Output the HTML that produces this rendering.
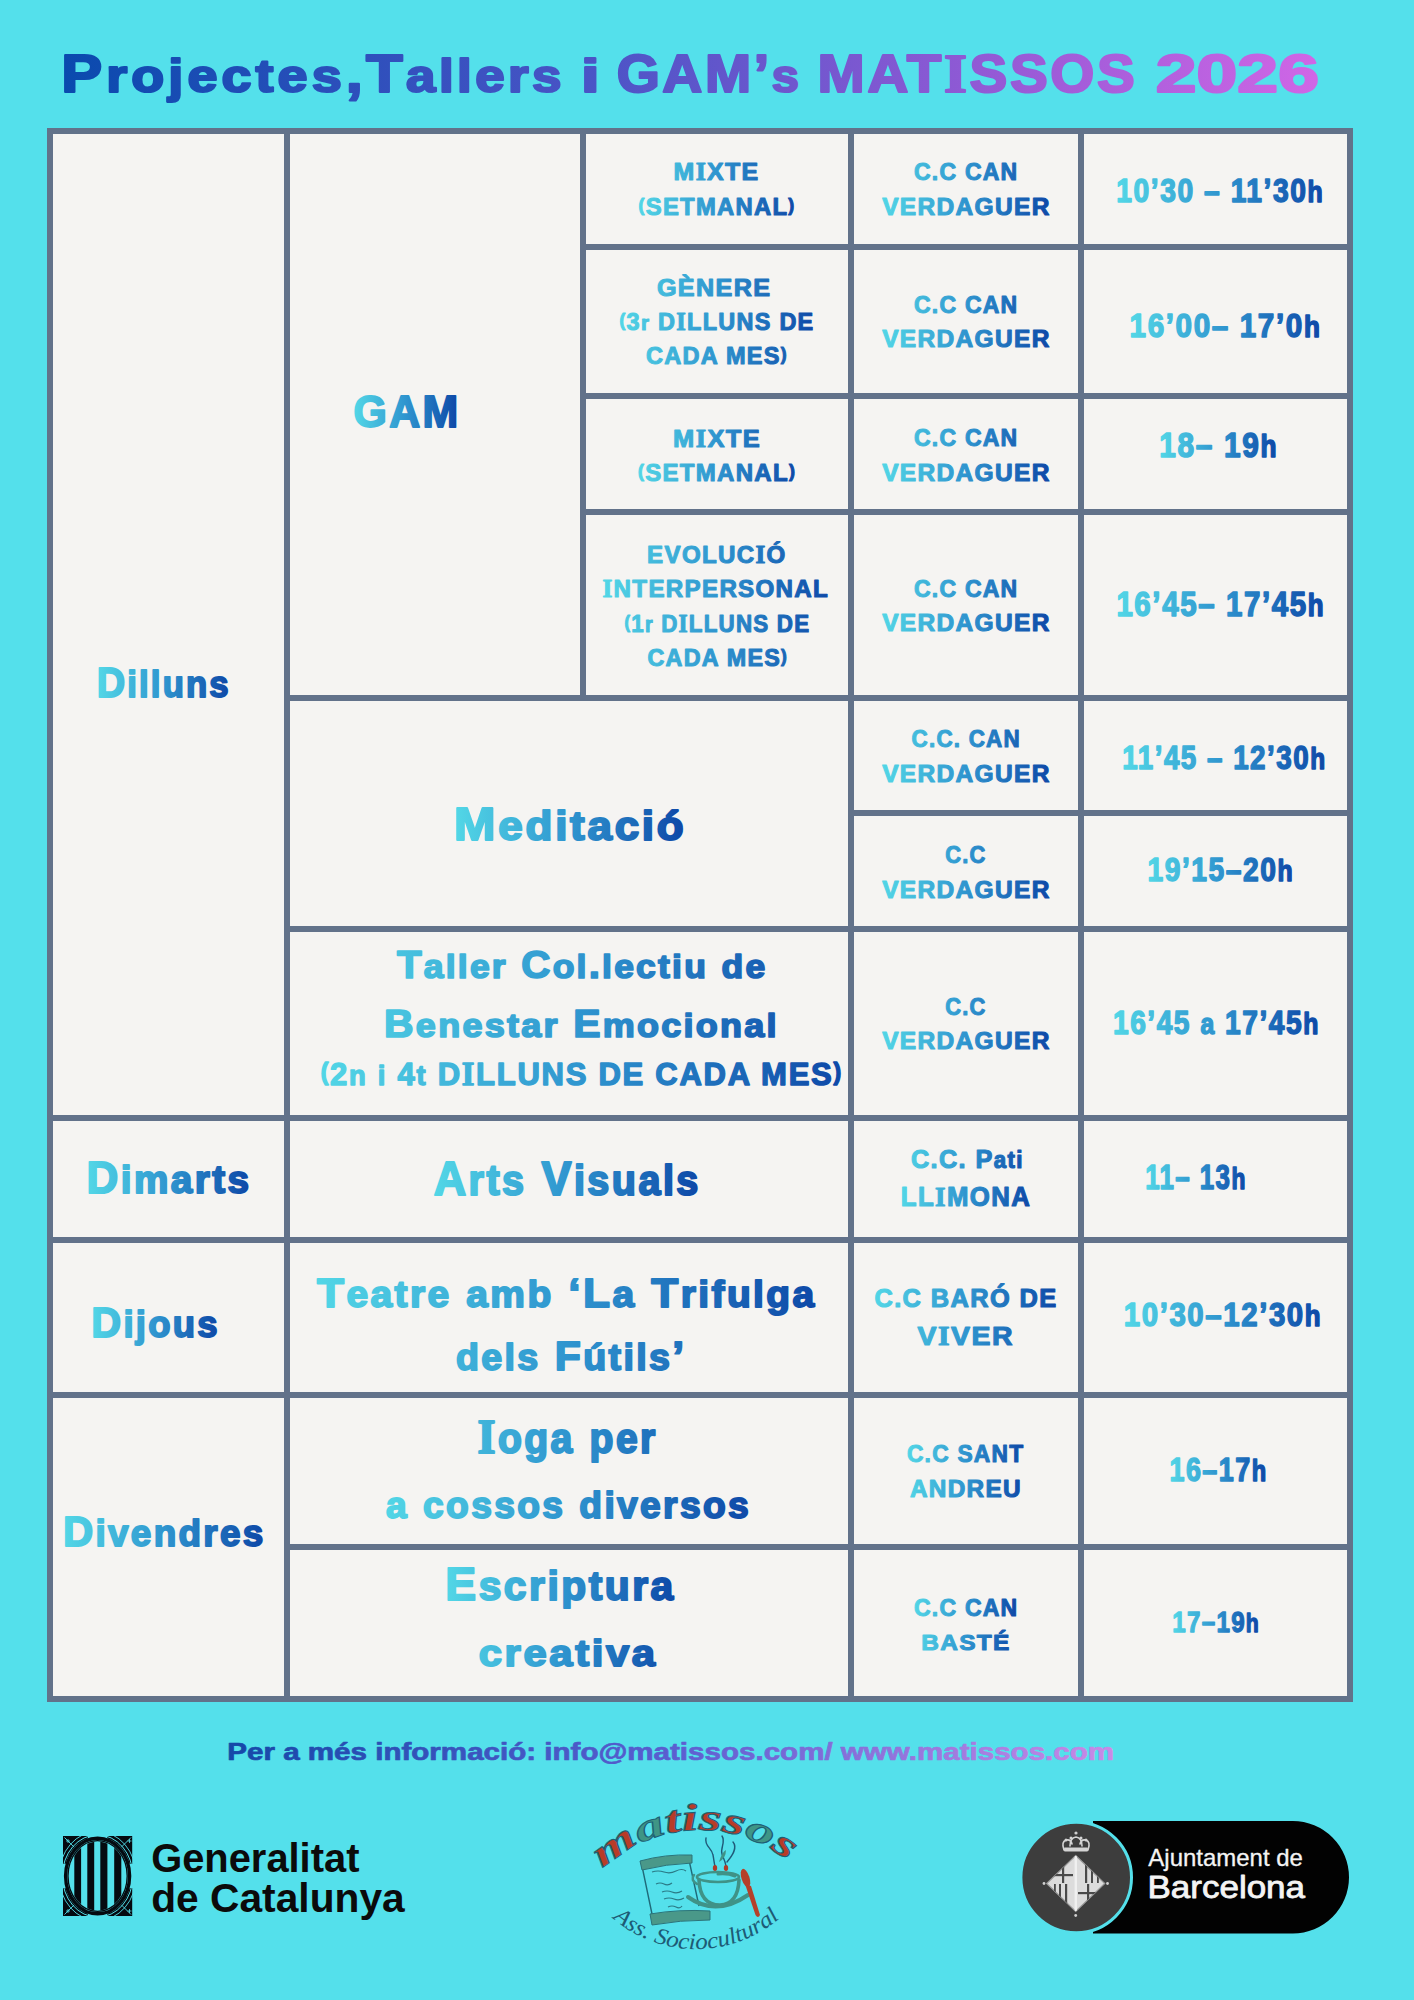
<!DOCTYPE html><html><head><meta charset="utf-8"><title>Matissos 2026</title><style>
html,body{margin:0;padding:0;width:1414px;height:2000px;overflow:hidden;background:#54e0eb}
svg{display:block}text{font-family:"Liberation Sans",sans-serif;font-weight:700}
</style></head><body>
<svg width="1414" height="2000" viewBox="0 0 1414 2000">
<defs>
<linearGradient id="g_title" gradientUnits="userSpaceOnUse" x1="63.6" y1="0" x2="1318.0" y2="0"><stop offset="0" stop-color="#0a4aae"/><stop offset="0.42" stop-color="#4a54c6"/><stop offset="0.75" stop-color="#965ad6"/><stop offset="1" stop-color="#d066e6"/></linearGradient>
<linearGradient id="g_c1a" gradientUnits="userSpaceOnUse" x1="98.9" y1="0" x2="228.0" y2="0"><stop offset="0" stop-color="#52d6e6"/><stop offset="0.5" stop-color="#2f95cf"/><stop offset="1" stop-color="#0e49a8"/></linearGradient>
<linearGradient id="g_c1b" gradientUnits="userSpaceOnUse" x1="88.8" y1="0" x2="248.3" y2="0"><stop offset="0" stop-color="#52d6e6"/><stop offset="0.5" stop-color="#2f95cf"/><stop offset="1" stop-color="#0e49a8"/></linearGradient>
<linearGradient id="g_c1c" gradientUnits="userSpaceOnUse" x1="92.7" y1="0" x2="217.0" y2="0"><stop offset="0" stop-color="#52d6e6"/><stop offset="0.5" stop-color="#2f95cf"/><stop offset="1" stop-color="#0e49a8"/></linearGradient>
<linearGradient id="g_c1d" gradientUnits="userSpaceOnUse" x1="65.0" y1="0" x2="262.4" y2="0"><stop offset="0" stop-color="#52d6e6"/><stop offset="0.5" stop-color="#2f95cf"/><stop offset="1" stop-color="#0e49a8"/></linearGradient>
<linearGradient id="g_gam" gradientUnits="userSpaceOnUse" x1="354.3" y1="0" x2="456.7" y2="0"><stop offset="0" stop-color="#52d6e6"/><stop offset="0.5" stop-color="#2f95cf"/><stop offset="1" stop-color="#0e49a8"/></linearGradient>
<linearGradient id="g_med" gradientUnits="userSpaceOnUse" x1="456.5" y1="0" x2="682.7" y2="0"><stop offset="0" stop-color="#52d6e6"/><stop offset="0.5" stop-color="#2f95cf"/><stop offset="1" stop-color="#0e49a8"/></linearGradient>
<linearGradient id="g_tal" gradientUnits="userSpaceOnUse" x1="321.5" y1="0" x2="840.6" y2="0"><stop offset="0" stop-color="#52d6e6"/><stop offset="0.5" stop-color="#2f95cf"/><stop offset="1" stop-color="#0e49a8"/></linearGradient>
<linearGradient id="g_arts" gradientUnits="userSpaceOnUse" x1="435.3" y1="0" x2="698.0" y2="0"><stop offset="0" stop-color="#52d6e6"/><stop offset="0.5" stop-color="#2f95cf"/><stop offset="1" stop-color="#0e49a8"/></linearGradient>
<linearGradient id="g_tea" gradientUnits="userSpaceOnUse" x1="317.0" y1="0" x2="815.5" y2="0"><stop offset="0" stop-color="#52d6e6"/><stop offset="0.5" stop-color="#2f95cf"/><stop offset="1" stop-color="#0e49a8"/></linearGradient>
<linearGradient id="g_ioga" gradientUnits="userSpaceOnUse" x1="386.0" y1="0" x2="747.6" y2="0"><stop offset="0" stop-color="#52d6e6"/><stop offset="0.5" stop-color="#2f95cf"/><stop offset="1" stop-color="#0e49a8"/></linearGradient>
<linearGradient id="g_esc" gradientUnits="userSpaceOnUse" x1="447.6" y1="0" x2="674.6" y2="0"><stop offset="0" stop-color="#52d6e6"/><stop offset="0.5" stop-color="#2f95cf"/><stop offset="1" stop-color="#0e49a8"/></linearGradient>
<linearGradient id="g_c3a" gradientUnits="userSpaceOnUse" x1="639.0" y1="0" x2="794.0" y2="0"><stop offset="0" stop-color="#52d6e6"/><stop offset="0.5" stop-color="#2f95cf"/><stop offset="1" stop-color="#0e49a8"/></linearGradient>
<linearGradient id="g_c3b" gradientUnits="userSpaceOnUse" x1="619.5" y1="0" x2="813.0" y2="0"><stop offset="0" stop-color="#52d6e6"/><stop offset="0.5" stop-color="#2f95cf"/><stop offset="1" stop-color="#0e49a8"/></linearGradient>
<linearGradient id="g_c3c" gradientUnits="userSpaceOnUse" x1="638.7" y1="0" x2="794.3" y2="0"><stop offset="0" stop-color="#52d6e6"/><stop offset="0.5" stop-color="#2f95cf"/><stop offset="1" stop-color="#0e49a8"/></linearGradient>
<linearGradient id="g_c3d" gradientUnits="userSpaceOnUse" x1="605.0" y1="0" x2="827.8" y2="0"><stop offset="0" stop-color="#52d6e6"/><stop offset="0.5" stop-color="#2f95cf"/><stop offset="1" stop-color="#0e49a8"/></linearGradient>
<linearGradient id="g_c4a" gradientUnits="userSpaceOnUse" x1="882.3" y1="0" x2="1048.6" y2="0"><stop offset="0" stop-color="#52d6e6"/><stop offset="0.5" stop-color="#2f95cf"/><stop offset="1" stop-color="#0e49a8"/></linearGradient>
<linearGradient id="g_c4b" gradientUnits="userSpaceOnUse" x1="882.3" y1="0" x2="1048.6" y2="0"><stop offset="0" stop-color="#52d6e6"/><stop offset="0.5" stop-color="#2f95cf"/><stop offset="1" stop-color="#0e49a8"/></linearGradient>
<linearGradient id="g_c4c" gradientUnits="userSpaceOnUse" x1="882.3" y1="0" x2="1048.6" y2="0"><stop offset="0" stop-color="#52d6e6"/><stop offset="0.5" stop-color="#2f95cf"/><stop offset="1" stop-color="#0e49a8"/></linearGradient>
<linearGradient id="g_c4d" gradientUnits="userSpaceOnUse" x1="882.3" y1="0" x2="1048.6" y2="0"><stop offset="0" stop-color="#52d6e6"/><stop offset="0.5" stop-color="#2f95cf"/><stop offset="1" stop-color="#0e49a8"/></linearGradient>
<linearGradient id="g_c4e" gradientUnits="userSpaceOnUse" x1="882.3" y1="0" x2="1048.6" y2="0"><stop offset="0" stop-color="#52d6e6"/><stop offset="0.5" stop-color="#2f95cf"/><stop offset="1" stop-color="#0e49a8"/></linearGradient>
<linearGradient id="g_c4f" gradientUnits="userSpaceOnUse" x1="882.3" y1="0" x2="1048.6" y2="0"><stop offset="0" stop-color="#52d6e6"/><stop offset="0.5" stop-color="#2f95cf"/><stop offset="1" stop-color="#0e49a8"/></linearGradient>
<linearGradient id="g_c4g" gradientUnits="userSpaceOnUse" x1="882.3" y1="0" x2="1048.6" y2="0"><stop offset="0" stop-color="#52d6e6"/><stop offset="0.5" stop-color="#2f95cf"/><stop offset="1" stop-color="#0e49a8"/></linearGradient>
<linearGradient id="g_c4h" gradientUnits="userSpaceOnUse" x1="901.6" y1="0" x2="1029.3" y2="0"><stop offset="0" stop-color="#52d6e6"/><stop offset="0.5" stop-color="#2f95cf"/><stop offset="1" stop-color="#0e49a8"/></linearGradient>
<linearGradient id="g_c4i" gradientUnits="userSpaceOnUse" x1="874.9" y1="0" x2="1056.0" y2="0"><stop offset="0" stop-color="#52d6e6"/><stop offset="0.5" stop-color="#2f95cf"/><stop offset="1" stop-color="#0e49a8"/></linearGradient>
<linearGradient id="g_c4j" gradientUnits="userSpaceOnUse" x1="907.2" y1="0" x2="1023.4" y2="0"><stop offset="0" stop-color="#52d6e6"/><stop offset="0.5" stop-color="#2f95cf"/><stop offset="1" stop-color="#0e49a8"/></linearGradient>
<linearGradient id="g_c4k" gradientUnits="userSpaceOnUse" x1="914.2" y1="0" x2="1016.0" y2="0"><stop offset="0" stop-color="#52d6e6"/><stop offset="0.5" stop-color="#2f95cf"/><stop offset="1" stop-color="#0e49a8"/></linearGradient>
<linearGradient id="g_h1" gradientUnits="userSpaceOnUse" x1="1117.8" y1="0" x2="1322.3" y2="0"><stop offset="0" stop-color="#52d6e6"/><stop offset="0.5" stop-color="#2f95cf"/><stop offset="1" stop-color="#0e49a8"/></linearGradient>
<linearGradient id="g_h2" gradientUnits="userSpaceOnUse" x1="1131.4" y1="0" x2="1318.9" y2="0"><stop offset="0" stop-color="#52d6e6"/><stop offset="0.5" stop-color="#2f95cf"/><stop offset="1" stop-color="#0e49a8"/></linearGradient>
<linearGradient id="g_h3" gradientUnits="userSpaceOnUse" x1="1160.3" y1="0" x2="1275.7" y2="0"><stop offset="0" stop-color="#52d6e6"/><stop offset="0.5" stop-color="#2f95cf"/><stop offset="1" stop-color="#0e49a8"/></linearGradient>
<linearGradient id="g_h4" gradientUnits="userSpaceOnUse" x1="1117.8" y1="0" x2="1322.3" y2="0"><stop offset="0" stop-color="#52d6e6"/><stop offset="0.5" stop-color="#2f95cf"/><stop offset="1" stop-color="#0e49a8"/></linearGradient>
<linearGradient id="g_h5" gradientUnits="userSpaceOnUse" x1="1123.8" y1="0" x2="1324.0" y2="0"><stop offset="0" stop-color="#52d6e6"/><stop offset="0.5" stop-color="#2f95cf"/><stop offset="1" stop-color="#0e49a8"/></linearGradient>
<linearGradient id="g_h6" gradientUnits="userSpaceOnUse" x1="1148.4" y1="0" x2="1291.8" y2="0"><stop offset="0" stop-color="#52d6e6"/><stop offset="0.5" stop-color="#2f95cf"/><stop offset="1" stop-color="#0e49a8"/></linearGradient>
<linearGradient id="g_h7" gradientUnits="userSpaceOnUse" x1="1113.6" y1="0" x2="1317.2" y2="0"><stop offset="0" stop-color="#52d6e6"/><stop offset="0.5" stop-color="#2f95cf"/><stop offset="1" stop-color="#0e49a8"/></linearGradient>
<linearGradient id="g_h8" gradientUnits="userSpaceOnUse" x1="1146.2" y1="0" x2="1245.1" y2="0"><stop offset="0" stop-color="#52d6e6"/><stop offset="0.5" stop-color="#2f95cf"/><stop offset="1" stop-color="#0e49a8"/></linearGradient>
<linearGradient id="g_h9" gradientUnits="userSpaceOnUse" x1="1125.5" y1="0" x2="1319.8" y2="0"><stop offset="0" stop-color="#52d6e6"/><stop offset="0.5" stop-color="#2f95cf"/><stop offset="1" stop-color="#0e49a8"/></linearGradient>
<linearGradient id="g_h10" gradientUnits="userSpaceOnUse" x1="1170.4" y1="0" x2="1265.5" y2="0"><stop offset="0" stop-color="#52d6e6"/><stop offset="0.5" stop-color="#2f95cf"/><stop offset="1" stop-color="#0e49a8"/></linearGradient>
<linearGradient id="g_h11" gradientUnits="userSpaceOnUse" x1="1173.3" y1="0" x2="1257.8" y2="0"><stop offset="0" stop-color="#52d6e6"/><stop offset="0.5" stop-color="#2f95cf"/><stop offset="1" stop-color="#0e49a8"/></linearGradient>
<linearGradient id="g_foot" gradientUnits="userSpaceOnUse" x1="229.0" y1="0" x2="1112.8" y2="0"><stop offset="0" stop-color="#1548a8"/><stop offset="0.5" stop-color="#5a5ed0"/><stop offset="1" stop-color="#c98ae6"/></linearGradient>
</defs>
<rect x="0" y="0" width="1414" height="2000" fill="#54e0eb"/>
<rect x="47" y="128" width="1306" height="1574" fill="#62728a"/>
<rect x="53" y="134" width="231" height="981" fill="#f5f4f2"/>
<rect x="53" y="1121" width="231" height="116" fill="#f5f4f2"/>
<rect x="53" y="1243" width="231" height="149" fill="#f5f4f2"/>
<rect x="53" y="1398" width="231" height="298" fill="#f5f4f2"/>
<rect x="290" y="134" width="290" height="561" fill="#f5f4f2"/>
<rect x="290" y="701" width="558" height="225" fill="#f5f4f2"/>
<rect x="290" y="932" width="558" height="183" fill="#f5f4f2"/>
<rect x="290" y="1121" width="558" height="116" fill="#f5f4f2"/>
<rect x="290" y="1243" width="558" height="149" fill="#f5f4f2"/>
<rect x="290" y="1398" width="558" height="146" fill="#f5f4f2"/>
<rect x="290" y="1550" width="558" height="146" fill="#f5f4f2"/>
<rect x="586" y="134" width="262" height="110" fill="#f5f4f2"/>
<rect x="586" y="250" width="262" height="143" fill="#f5f4f2"/>
<rect x="586" y="399" width="262" height="110" fill="#f5f4f2"/>
<rect x="586" y="515" width="262" height="180" fill="#f5f4f2"/>
<rect x="854" y="134" width="224" height="110" fill="#f5f4f2"/>
<rect x="1084" y="134" width="263" height="110" fill="#f5f4f2"/>
<rect x="854" y="250" width="224" height="143" fill="#f5f4f2"/>
<rect x="1084" y="250" width="263" height="143" fill="#f5f4f2"/>
<rect x="854" y="399" width="224" height="110" fill="#f5f4f2"/>
<rect x="1084" y="399" width="263" height="110" fill="#f5f4f2"/>
<rect x="854" y="515" width="224" height="180" fill="#f5f4f2"/>
<rect x="1084" y="515" width="263" height="180" fill="#f5f4f2"/>
<rect x="854" y="701" width="224" height="109" fill="#f5f4f2"/>
<rect x="1084" y="701" width="263" height="109" fill="#f5f4f2"/>
<rect x="854" y="816" width="224" height="110" fill="#f5f4f2"/>
<rect x="1084" y="816" width="263" height="110" fill="#f5f4f2"/>
<rect x="854" y="932" width="224" height="183" fill="#f5f4f2"/>
<rect x="1084" y="932" width="263" height="183" fill="#f5f4f2"/>
<rect x="854" y="1121" width="224" height="116" fill="#f5f4f2"/>
<rect x="1084" y="1121" width="263" height="116" fill="#f5f4f2"/>
<rect x="854" y="1243" width="224" height="149" fill="#f5f4f2"/>
<rect x="1084" y="1243" width="263" height="149" fill="#f5f4f2"/>
<rect x="854" y="1398" width="224" height="146" fill="#f5f4f2"/>
<rect x="1084" y="1398" width="263" height="146" fill="#f5f4f2"/>
<rect x="854" y="1550" width="224" height="146" fill="#f5f4f2"/>
<rect x="1084" y="1550" width="263" height="146" fill="#f5f4f2"/>
<!-- Generalitat emblem -->
<g id="gencat">
  <defs><clipPath id="gcclip"><ellipse cx="97.6" cy="1876" rx="28.6" ry="34.6"/></clipPath></defs>
  <ellipse cx="97.6" cy="1876" rx="32" ry="37.8" fill="none" stroke="#050a10" stroke-width="3.4"/>
  <ellipse cx="97.6" cy="1876" rx="29.6" ry="35.4" fill="none" stroke="#050a10" stroke-width="1.3"/>
  <g clip-path="url(#gcclip)" fill="#050a10">
    <rect x="74.3" y="1830" width="6.8" height="95"/>
    <rect x="87.3" y="1830" width="6.9" height="95"/>
    <rect x="100.3" y="1830" width="7.1" height="95"/>
    <rect x="114.2" y="1830" width="7.1" height="95"/>
  </g>
  <g fill="#050a10">
    <path d="M63 1836 H88 L88 1838.2 A33.7 39.5 0 0 0 65.5 1864 L63 1864 Z"/>
    <path d="M132.2 1836 H107.2 L107.2 1838.2 A33.7 39.5 0 0 1 129.7 1864 L132.2 1864 Z"/>
    <path d="M63 1916 H88 L88 1913.8 A33.7 39.5 0 0 1 65.5 1888 L63 1888 Z"/>
    <path d="M132.2 1916 H107.2 L107.2 1913.8 A33.7 39.5 0 0 0 129.7 1888 L132.2 1888 Z"/>
  </g>
  <g fill="none" stroke="#54e0eb">
    <ellipse cx="97.6" cy="1876" rx="35.3" ry="41.2" stroke-width="1"/>
    <ellipse cx="97.6" cy="1876" rx="38.6" ry="44.6" stroke-width="0.9"/>
    <path d="M64.5 1837.5 L74 1847 M131 1837.5 L121.5 1847 M64.5 1914.5 L74 1905 M131 1914.5 L121.5 1905" stroke-width="0.9"/>
    <path d="M66 1841 h4 M68 1839 v4 M127.5 1841 h4 M129.5 1839 v4 M66 1911 h4 M68 1909 v4 M127.5 1911 h4 M129.5 1909 v4" stroke-width="0.8"/>
  </g>
</g>
<!-- Ajuntament de Barcelona -->
<g id="ajbcn">
  <path d="M1093 1821 H1292.7 A56.3 56.3 0 0 1 1292.7 1933.6 H1093 Z" fill="#020202"/>
  <circle cx="1076.2" cy="1877.5" r="55.3" fill="#3d3d3d" stroke="#54e0eb" stroke-width="3"/>
  <defs><clipPath id="dclip"><path d="M1075.7 1855.5 L1104.7 1883.5 L1075.7 1911.5 L1046.7 1883.5 Z"/></clipPath></defs>
  <g>
    <path d="M1075.7 1855.5 L1104.7 1883.5 L1075.7 1911.5 L1046.7 1883.5 Z" fill="#dcdcdc" stroke="#9a9a9a" stroke-width="1.2"/>
    <g fill="#4a4a4a" clip-path="url(#dclip)">
      <rect x="1085" y="1862" width="2.2" height="21"/><rect x="1091" y="1868" width="2" height="15"/><rect x="1097" y="1875" width="1.8" height="8"/>
      <rect x="1054" y="1884" width="1.8" height="8"/><rect x="1059" y="1884" width="2" height="15"/><rect x="1065" y="1884" width="2.2" height="21"/>
      <rect x="1052" y="1874" width="21" height="2.2"/><rect x="1062" y="1862" width="2.2" height="21"/>
      <rect x="1078" y="1892" width="21" height="2.2"/><rect x="1087" y="1884" width="2.2" height="21"/>
    </g>
    <rect x="1074.6" y="1856" width="2.4" height="55" fill="#f0f0f0" clip-path="url(#dclip)"/>
  </g>
  <g fill="none" stroke="#d4d4d4" stroke-width="1.6" stroke-linecap="round">
    <path d="M1064 1850 Q1061 1842 1066 1840 Q1071 1839 1072 1844 M1088 1850 Q1091 1842 1086 1840 Q1081 1839 1080 1844 M1070 1846 Q1070 1838 1076 1837 Q1082 1838 1082 1846"/>
  </g>
  <rect x="1064" y="1847.5" width="24" height="4" rx="1" fill="#d4d4d4"/>
  <g fill="#d4d4d4"><circle cx="1066" cy="1840" r="1.5"/><circle cx="1071" cy="1838" r="1.5"/><circle cx="1081" cy="1838" r="1.5"/><circle cx="1086" cy="1840" r="1.5"/></g>
  <circle cx="1076" cy="1833" r="1.6" fill="#cfcfcf"/>
  <circle cx="1044" cy="1883.5" r="1.4" fill="#cfcfcf"/><circle cx="1107.5" cy="1883.5" r="1.4" fill="#cfcfcf"/>
  <circle cx="1075.7" cy="1915.5" r="1.4" fill="#cfcfcf"/>
</g>
<!-- Matissos logo -->
<g id="matissos">
  <defs>
    <path id="arcTop" d="M597 1876 A138 138 0 0 1 803 1876"/>
    <path id="arcBot" d="M606 1912 A128 128 0 0 0 792 1906"/>
  </defs>
  <!-- scroll -->
  <g>
    <path d="M642 1866 L652 1914 M689 1860 L699 1906" stroke="#1f6a7a" stroke-width="1.4" fill="none"/>
    <path d="M640 1861 Q665 1854 692 1855 L692 1863 Q666 1864 642 1870 Z" fill="#4a9889" stroke="#2c7378" stroke-width="1"/>
    <path d="M650 1914 Q680 1909 710 1911 L710 1920 Q680 1920 652 1925 Z" fill="#4a9889" stroke="#2c7378" stroke-width="1"/>
    <g stroke="#2a7a86" stroke-width="1.2" fill="none">
      <path d="M652 1872 q6 -2 12 0 t12 -1 t10 0"/>
      <path d="M656 1884 q4 -2 8 0 t8 -1"/>
      <path d="M662 1892 q5 -2 10 0 t10 -1"/>
      <path d="M664 1899 q5 -2 10 0 t10 -1"/>
      <path d="M668 1907 q4 -2 8 0 t6 -1"/>
    </g>
  </g>
  <!-- cup -->
  <g fill="none" stroke="#3f9287" stroke-linecap="round">
    <ellipse cx="718" cy="1877" rx="21" ry="5" stroke-width="2.6"/>
    <path d="M718 1874 q10 -1 17 2" stroke-width="3"/>
    <path d="M699 1880 Q700 1905 720 1905 Q738 1904 739 1880" stroke-width="3.6"/>
    <path d="M697 1884 Q690 1880 694 1875" stroke-width="2.4"/>
    <path d="M688 1897 Q716 1917 748 1895" stroke-width="4"/>
  </g>
  <!-- steam -->
  <g fill="none" stroke="#1f5a78" stroke-width="1.4" stroke-linecap="round">
    <path d="M706 1838 C704 1846 712 1848 713 1855 C714 1860 714 1863 715 1866"/>
    <path d="M722 1836 C726 1842 720 1848 722 1854 C723 1858 725 1860 726 1866"/>
    <path d="M733 1842 C738 1848 732 1856 727 1862"/>
  </g>
  <path d="M719 1862 Q722 1852 726 1850 Q726 1858 719 1862 Z" fill="#3f9287"/>
  <ellipse cx="715" cy="1868" rx="2.2" ry="3" fill="#b03a28"/>
  <ellipse cx="726" cy="1868" rx="2.2" ry="3" fill="#b03a28"/>
  <!-- spoon -->
  <ellipse cx="745.5" cy="1878" rx="4" ry="9.5" transform="rotate(-18 745.5 1878)" fill="#b5402a"/><path d="M745 1884 L751 1886 L760 1915 Q758 1919 755.5 1915 Z" fill="#b5402a"/>
  <!-- word -->
  <text style="font-family:'Liberation Serif',serif;font-style:italic;font-weight:700" font-size="38" stroke="#1d5f75" stroke-width="1">
    <textPath href="#arcTop" startOffset="9" textLength="202" lengthAdjust="spacingAndGlyphs"><tspan fill="#b83c28">m</tspan><tspan fill="#3f9585">a</tspan><tspan fill="#b83c28">tiss</tspan><tspan fill="#3f9585">o</tspan><tspan fill="#b83c28">s</tspan></textPath>
  </text>
  <text style="font-family:'Liberation Serif',serif;font-style:italic;font-weight:400" font-size="23" fill="#1d5b75">
    <textPath href="#arcBot" startOffset="9" textLength="182" lengthAdjust="spacingAndGlyphs">Ass.  Sociocultural</textPath>
  </text>
</g>

<text style="letter-spacing:3.5px" x="61.24" y="92.00" font-size="52.76" textLength="305.68" lengthAdjust="spacingAndGlyphs" fill="url(#g_title)" stroke="url(#g_title)" stroke-width="2.20" stroke-linejoin="round">P<tspan style="font-size:0.88em">rojectes</tspan>,</text>
<text style="letter-spacing:3.0px" x="365.90" y="92.00" font-size="52.76" textLength="199.02" lengthAdjust="spacingAndGlyphs" fill="url(#g_title)" stroke="url(#g_title)" stroke-width="2.20" stroke-linejoin="round">T<tspan style="font-size:0.88em">allers</tspan></text>
<text x="581.03" y="92.00" font-size="52.76" textLength="18.59" lengthAdjust="spacingAndGlyphs" fill="url(#g_title)" stroke="url(#g_title)" stroke-width="2.20" stroke-linejoin="round"><tspan style="font-size:0.88em">i</tspan></text>
<text style="letter-spacing:2.5px" x="616.65" y="92.00" font-size="53.49" textLength="184.83" lengthAdjust="spacingAndGlyphs" fill="url(#g_title)" stroke="url(#g_title)" stroke-width="2.20" stroke-linejoin="round">GAM’<tspan style="font-size:0.88em">s</tspan></text>
<text style="letter-spacing:2.5px" x="817.64" y="92.00" font-size="53.49" textLength="319.82" lengthAdjust="spacingAndGlyphs" fill="url(#g_title)" stroke="url(#g_title)" stroke-width="2.20" stroke-linejoin="round">MAT<tspan style="font-family:'Liberation Serif',serif;font-size:1.04em">I</tspan>SSOS</text>
<text x="1155.83" y="92.00" font-size="53.49" textLength="163.07" lengthAdjust="spacingAndGlyphs" fill="url(#g_title)" stroke="url(#g_title)" stroke-width="2.20" stroke-linejoin="round">2026</text>
<text style="letter-spacing:2.31px" x="96.70" y="696.80" font-size="42.08" textLength="134.01" lengthAdjust="spacingAndGlyphs" fill="url(#g_c1a)" stroke="url(#g_c1a)" stroke-width="1.85" stroke-linejoin="round">D<tspan style="font-size:0.88em">illuns</tspan></text>
<text style="letter-spacing:2.4px" x="86.58" y="1193.00" font-size="43.72" textLength="164.84" lengthAdjust="spacingAndGlyphs" fill="url(#g_c1b)" stroke="url(#g_c1b)" stroke-width="1.92" stroke-linejoin="round">D<tspan style="font-size:0.88em">imarts</tspan></text>
<text style="letter-spacing:2.31px" x="91.32" y="1336.80" font-size="42.08" textLength="128.44" lengthAdjust="spacingAndGlyphs" fill="url(#g_c1c)" stroke="url(#g_c1c)" stroke-width="1.85" stroke-linejoin="round">D<tspan style="font-size:0.88em">ijous</tspan></text>
<text style="letter-spacing:2.33px" x="62.95" y="1546.00" font-size="42.35" textLength="202.63" lengthAdjust="spacingAndGlyphs" fill="url(#g_c1d)" stroke="url(#g_c1d)" stroke-width="1.86" stroke-linejoin="round">D<tspan style="font-size:0.88em">ivendres</tspan></text>
<text style="letter-spacing:2.4px" x="353.56" y="427.00" font-size="43.72" textLength="106.88" lengthAdjust="spacingAndGlyphs" fill="url(#g_gam)" stroke="url(#g_gam)" stroke-width="1.92" stroke-linejoin="round">GAM</text>
<text style="letter-spacing:2.55px" x="454.04" y="839.80" font-size="46.45" textLength="232.37" lengthAdjust="spacingAndGlyphs" fill="url(#g_med)" stroke="url(#g_med)" stroke-width="2.04" stroke-linejoin="round">M<tspan style="font-size:0.88em">editació</tspan></text>
<text style="letter-spacing:2.1px" x="396.90" y="977.80" font-size="38.26" textLength="370.52" lengthAdjust="spacingAndGlyphs" fill="url(#g_tal)" stroke="url(#g_tal)" stroke-width="1.68" stroke-linejoin="round">T<tspan style="font-size:0.88em">aller</tspan> C<tspan style="font-size:0.88em">ol</tspan>.<tspan style="font-size:0.88em">lectiu</tspan> <tspan style="font-size:0.88em">de</tspan></text>
<text style="letter-spacing:2.1px" x="384.08" y="1037.00" font-size="38.26" textLength="394.75" lengthAdjust="spacingAndGlyphs" fill="url(#g_tal)" stroke="url(#g_tal)" stroke-width="1.68" stroke-linejoin="round">B<tspan style="font-size:0.88em">enestar</tspan> E<tspan style="font-size:0.88em">mocional</tspan></text>
<text style="letter-spacing:1.77px" x="320.75" y="1085.00" font-size="32.11" textLength="522.09" lengthAdjust="spacingAndGlyphs" fill="url(#g_tal)" stroke="url(#g_tal)" stroke-width="1.41" stroke-linejoin="round"><tspan style="font-size:0.74em;baseline-shift:0.2em">(</tspan>2<tspan style="font-size:0.88em">n</tspan> <tspan style="font-size:0.88em">i</tspan> 4<tspan style="font-size:0.88em">t</tspan> D<tspan style="font-family:'Liberation Serif',serif;font-size:1.04em">I</tspan>LLUNS DE CADA MES<tspan style="font-size:0.74em;baseline-shift:0.2em">)</tspan></text>
<text style="letter-spacing:2.63px" x="433.70" y="1194.70" font-size="47.82" textLength="267.11" lengthAdjust="spacingAndGlyphs" fill="url(#g_arts)" stroke="url(#g_arts)" stroke-width="2.10" stroke-linejoin="round">A<tspan style="font-size:0.88em">rts</tspan> V<tspan style="font-size:0.88em">isuals</tspan></text>
<text style="letter-spacing:2.25px" x="316.97" y="1306.50" font-size="40.99" textLength="499.65" lengthAdjust="spacingAndGlyphs" fill="url(#g_tea)" stroke="url(#g_tea)" stroke-width="1.80" stroke-linejoin="round">T<tspan style="font-size:0.88em">eatre</tspan> <tspan style="font-size:0.88em">amb</tspan> ‘L<tspan style="font-size:0.88em">a</tspan> T<tspan style="font-size:0.88em">rifulga</tspan></text>
<text style="letter-spacing:2.25px" x="455.94" y="1369.50" font-size="40.99" textLength="230.55" lengthAdjust="spacingAndGlyphs" fill="url(#g_tea)" stroke="url(#g_tea)" stroke-width="1.80" stroke-linejoin="round"><tspan style="font-size:0.88em">dels</tspan> F<tspan style="font-size:0.88em">útils</tspan>’</text>
<text style="letter-spacing:2.6px" x="477.48" y="1453.00" font-size="47.27" textLength="180.30" lengthAdjust="spacingAndGlyphs" fill="url(#g_ioga)" stroke="url(#g_ioga)" stroke-width="2.08" stroke-linejoin="round"><tspan style="font-family:'Liberation Serif',serif;font-size:1.04em">I</tspan><tspan style="font-size:0.88em">oga</tspan> <tspan style="font-size:0.88em">per</tspan></text>
<text style="letter-spacing:2.33px" x="386.01" y="1518.00" font-size="42.35" textLength="364.96" lengthAdjust="spacingAndGlyphs" fill="url(#g_ioga)" stroke="url(#g_ioga)" stroke-width="1.86" stroke-linejoin="round"><tspan style="font-size:0.88em">a</tspan> <tspan style="font-size:0.88em">cossos</tspan> <tspan style="font-size:0.88em">diversos</tspan></text>
<text style="letter-spacing:2.55px" x="445.25" y="1599.60" font-size="46.45" textLength="230.49" lengthAdjust="spacingAndGlyphs" fill="url(#g_esc)" stroke="url(#g_esc)" stroke-width="2.04" stroke-linejoin="round">E<tspan style="font-size:0.88em">scriptura</tspan></text>
<text style="letter-spacing:2.33px" x="478.78" y="1666.40" font-size="42.35" textLength="178.84" lengthAdjust="spacingAndGlyphs" fill="url(#g_esc)" stroke="url(#g_esc)" stroke-width="1.86" stroke-linejoin="round"><tspan style="font-size:0.88em">creativa</tspan></text>
<text style="letter-spacing:1.35px" x="673.52" y="180.40" font-size="24.59" textLength="86.09" lengthAdjust="spacingAndGlyphs" fill="url(#g_c3a)" stroke="url(#g_c3a)" stroke-width="1.08" stroke-linejoin="round">M<tspan style="font-family:'Liberation Serif',serif;font-size:1.04em">I</tspan>XTE</text>
<text style="letter-spacing:1.32px" x="638.56" y="215.30" font-size="23.91" textLength="156.94" lengthAdjust="spacingAndGlyphs" fill="url(#g_c3a)" stroke="url(#g_c3a)" stroke-width="1.05" stroke-linejoin="round"><tspan style="font-size:0.74em;baseline-shift:0.2em">(</tspan>SETMANAL<tspan style="font-size:0.74em;baseline-shift:0.2em">)</tspan></text>
<text style="letter-spacing:1.35px" x="656.93" y="295.60" font-size="24.59" textLength="114.49" lengthAdjust="spacingAndGlyphs" fill="url(#g_c3b)" stroke="url(#g_c3b)" stroke-width="1.08" stroke-linejoin="round">GÈNERE</text>
<text style="letter-spacing:1.32px" x="619.54" y="330.00" font-size="23.91" textLength="194.97" lengthAdjust="spacingAndGlyphs" fill="url(#g_c3b)" stroke="url(#g_c3b)" stroke-width="1.05" stroke-linejoin="round"><tspan style="font-size:0.74em;baseline-shift:0.2em">(</tspan>3<tspan style="font-size:0.88em">r</tspan> D<tspan style="font-family:'Liberation Serif',serif;font-size:1.04em">I</tspan>LLUNS DE</text>
<text style="letter-spacing:1.32px" x="645.95" y="364.40" font-size="23.91" textLength="141.97" lengthAdjust="spacingAndGlyphs" fill="url(#g_c3b)" stroke="url(#g_c3b)" stroke-width="1.05" stroke-linejoin="round">CADA MES<tspan style="font-size:0.74em;baseline-shift:0.2em">)</tspan></text>
<text style="letter-spacing:1.35px" x="673.14" y="446.50" font-size="24.59" textLength="87.95" lengthAdjust="spacingAndGlyphs" fill="url(#g_c3c)" stroke="url(#g_c3c)" stroke-width="1.08" stroke-linejoin="round">M<tspan style="font-family:'Liberation Serif',serif;font-size:1.04em">I</tspan>XTE</text>
<text style="letter-spacing:1.32px" x="637.93" y="481.30" font-size="23.91" textLength="158.22" lengthAdjust="spacingAndGlyphs" fill="url(#g_c3c)" stroke="url(#g_c3c)" stroke-width="1.05" stroke-linejoin="round"><tspan style="font-size:0.74em;baseline-shift:0.2em">(</tspan>SETMANAL<tspan style="font-size:0.74em;baseline-shift:0.2em">)</tspan></text>
<text style="letter-spacing:1.33px" x="647.12" y="562.70" font-size="24.18" textLength="139.45" lengthAdjust="spacingAndGlyphs" fill="url(#g_c3d)" stroke="url(#g_c3d)" stroke-width="1.06" stroke-linejoin="round">EVOLUC<tspan style="font-family:'Liberation Serif',serif;font-size:1.04em">I</tspan>Ó</text>
<text style="letter-spacing:1.33px" x="602.54" y="597.20" font-size="24.18" textLength="226.62" lengthAdjust="spacingAndGlyphs" fill="url(#g_c3d)" stroke="url(#g_c3d)" stroke-width="1.06" stroke-linejoin="round"><tspan style="font-family:'Liberation Serif',serif;font-size:1.04em">I</tspan>NTERPERSONAL</text>
<text style="letter-spacing:1.33px" x="624.54" y="631.70" font-size="24.18" textLength="185.74" lengthAdjust="spacingAndGlyphs" fill="url(#g_c3d)" stroke="url(#g_c3d)" stroke-width="1.06" stroke-linejoin="round"><tspan style="font-size:0.74em;baseline-shift:0.2em">(</tspan>1<tspan style="font-size:0.88em">r</tspan> D<tspan style="font-family:'Liberation Serif',serif;font-size:1.04em">I</tspan>LLUNS DE</text>
<text style="letter-spacing:1.32px" x="647.53" y="666.10" font-size="24.05" textLength="140.60" lengthAdjust="spacingAndGlyphs" fill="url(#g_c3d)" stroke="url(#g_c3d)" stroke-width="1.06" stroke-linejoin="round">CADA MES<tspan style="font-size:0.74em;baseline-shift:0.2em">)</tspan></text>
<text style="letter-spacing:1.34px" x="913.95" y="180.40" font-size="24.32" textLength="104.53" lengthAdjust="spacingAndGlyphs" fill="url(#g_c4a)" stroke="url(#g_c4a)" stroke-width="1.07" stroke-linejoin="round">C.C CAN</text>
<text style="letter-spacing:1.34px" x="882.16" y="215.30" font-size="24.32" textLength="168.62" lengthAdjust="spacingAndGlyphs" fill="url(#g_c4a)" stroke="url(#g_c4a)" stroke-width="1.07" stroke-linejoin="round">VERDAGUER</text>
<text style="letter-spacing:1.34px" x="913.95" y="313.40" font-size="24.32" textLength="104.53" lengthAdjust="spacingAndGlyphs" fill="url(#g_c4b)" stroke="url(#g_c4b)" stroke-width="1.07" stroke-linejoin="round">C.C CAN</text>
<text style="letter-spacing:1.34px" x="882.16" y="346.80" font-size="24.32" textLength="168.61" lengthAdjust="spacingAndGlyphs" fill="url(#g_c4b)" stroke="url(#g_c4b)" stroke-width="1.07" stroke-linejoin="round">VERDAGUER</text>
<text style="letter-spacing:1.34px" x="913.95" y="446.20" font-size="24.32" textLength="104.53" lengthAdjust="spacingAndGlyphs" fill="url(#g_c4c)" stroke="url(#g_c4c)" stroke-width="1.07" stroke-linejoin="round">C.C CAN</text>
<text style="letter-spacing:1.34px" x="882.16" y="481.10" font-size="24.32" textLength="168.61" lengthAdjust="spacingAndGlyphs" fill="url(#g_c4c)" stroke="url(#g_c4c)" stroke-width="1.07" stroke-linejoin="round">VERDAGUER</text>
<text style="letter-spacing:1.34px" x="913.95" y="597.00" font-size="24.32" textLength="104.53" lengthAdjust="spacingAndGlyphs" fill="url(#g_c4d)" stroke="url(#g_c4d)" stroke-width="1.07" stroke-linejoin="round">C.C CAN</text>
<text style="letter-spacing:1.34px" x="882.16" y="631.10" font-size="24.32" textLength="168.61" lengthAdjust="spacingAndGlyphs" fill="url(#g_c4d)" stroke="url(#g_c4d)" stroke-width="1.07" stroke-linejoin="round">VERDAGUER</text>
<text style="letter-spacing:1.34px" x="911.57" y="747.00" font-size="24.32" textLength="109.34" lengthAdjust="spacingAndGlyphs" fill="url(#g_c4e)" stroke="url(#g_c4e)" stroke-width="1.07" stroke-linejoin="round">C.C. CAN</text>
<text style="letter-spacing:1.34px" x="882.16" y="781.80" font-size="24.32" textLength="168.61" lengthAdjust="spacingAndGlyphs" fill="url(#g_c4e)" stroke="url(#g_c4e)" stroke-width="1.07" stroke-linejoin="round">VERDAGUER</text>
<text style="letter-spacing:1.34px" x="945.28" y="863.40" font-size="24.32" textLength="41.23" lengthAdjust="spacingAndGlyphs" fill="url(#g_c4f)" stroke="url(#g_c4f)" stroke-width="1.07" stroke-linejoin="round">C.C</text>
<text style="letter-spacing:1.34px" x="882.16" y="898.30" font-size="24.32" textLength="168.62" lengthAdjust="spacingAndGlyphs" fill="url(#g_c4f)" stroke="url(#g_c4f)" stroke-width="1.07" stroke-linejoin="round">VERDAGUER</text>
<text style="letter-spacing:1.34px" x="945.28" y="1015.40" font-size="24.32" textLength="41.23" lengthAdjust="spacingAndGlyphs" fill="url(#g_c4g)" stroke="url(#g_c4g)" stroke-width="1.07" stroke-linejoin="round">C.C</text>
<text style="letter-spacing:1.34px" x="882.16" y="1049.20" font-size="24.32" textLength="168.62" lengthAdjust="spacingAndGlyphs" fill="url(#g_c4g)" stroke="url(#g_c4g)" stroke-width="1.07" stroke-linejoin="round">VERDAGUER</text>
<text style="letter-spacing:1.45px" x="910.99" y="1168.40" font-size="26.37" textLength="112.75" lengthAdjust="spacingAndGlyphs" fill="url(#g_c4h)" stroke="url(#g_c4h)" stroke-width="1.16" stroke-linejoin="round">C.C. P<tspan style="font-size:0.88em">ati</tspan></text>
<text style="letter-spacing:1.49px" x="900.80" y="1206.00" font-size="27.05" textLength="130.39" lengthAdjust="spacingAndGlyphs" fill="url(#g_c4h)" stroke="url(#g_c4h)" stroke-width="1.19" stroke-linejoin="round">LL<tspan style="font-family:'Liberation Serif',serif;font-size:1.04em">I</tspan>MONA</text>
<text style="letter-spacing:1.45px" x="874.42" y="1307.10" font-size="26.37" textLength="183.14" lengthAdjust="spacingAndGlyphs" fill="url(#g_c4i)" stroke="url(#g_c4i)" stroke-width="1.16" stroke-linejoin="round">C.C BARÓ DE</text>
<text style="letter-spacing:1.45px" x="917.40" y="1345.00" font-size="26.37" textLength="96.77" lengthAdjust="spacingAndGlyphs" fill="url(#g_c4i)" stroke="url(#g_c4i)" stroke-width="1.16" stroke-linejoin="round">V<tspan style="font-family:'Liberation Serif',serif;font-size:1.04em">I</tspan>VER</text>
<text style="letter-spacing:1.32px" x="906.93" y="1462.40" font-size="23.91" textLength="117.38" lengthAdjust="spacingAndGlyphs" fill="url(#g_c4j)" stroke="url(#g_c4j)" stroke-width="1.05" stroke-linejoin="round">C.C SANT</text>
<text style="letter-spacing:1.3px" x="909.90" y="1497.10" font-size="23.64" textLength="112.12" lengthAdjust="spacingAndGlyphs" fill="url(#g_c4j)" stroke="url(#g_c4j)" stroke-width="1.04" stroke-linejoin="round">ANDREU</text>
<text style="letter-spacing:1.34px" x="913.95" y="1615.60" font-size="24.32" textLength="104.53" lengthAdjust="spacingAndGlyphs" fill="url(#g_c4k)" stroke="url(#g_c4k)" stroke-width="1.07" stroke-linejoin="round">C.C CAN</text>
<text style="letter-spacing:1.22px" x="921.25" y="1649.80" font-size="22.24" textLength="89.43" lengthAdjust="spacingAndGlyphs" fill="url(#g_c4k)" stroke="url(#g_c4k)" stroke-width="1.00" stroke-linejoin="round">BASTÉ</text>
<text style="letter-spacing:1.85px" x="1116.36" y="201.60" font-size="33.61" textLength="207.81" lengthAdjust="spacingAndGlyphs" fill="url(#g_h1)" stroke="url(#g_h1)" stroke-width="1.48" stroke-linejoin="round">10’30 – 11’30<tspan style="font-size:0.88em">h</tspan></text>
<text style="letter-spacing:1.85px" x="1129.55" y="336.60" font-size="33.61" textLength="191.89" lengthAdjust="spacingAndGlyphs" fill="url(#g_h2)" stroke="url(#g_h2)" stroke-width="1.48" stroke-linejoin="round">16’00– 17’0<tspan style="font-size:0.88em">h</tspan></text>
<text style="letter-spacing:1.92px" x="1159.34" y="456.60" font-size="34.84" textLength="118.71" lengthAdjust="spacingAndGlyphs" fill="url(#g_h3)" stroke="url(#g_h3)" stroke-width="1.53" stroke-linejoin="round">18– 19<tspan style="font-size:0.88em">h</tspan></text>
<text style="letter-spacing:1.91px" x="1116.38" y="615.70" font-size="34.70" textLength="208.79" lengthAdjust="spacingAndGlyphs" fill="url(#g_h4)" stroke="url(#g_h4)" stroke-width="1.52" stroke-linejoin="round">16’45– 17’45<tspan style="font-size:0.88em">h</tspan></text>
<text style="letter-spacing:1.8px" x="1122.33" y="769.40" font-size="32.79" textLength="204.22" lengthAdjust="spacingAndGlyphs" fill="url(#g_h5)" stroke="url(#g_h5)" stroke-width="1.44" stroke-linejoin="round">11’45 – 12’30<tspan style="font-size:0.88em">h</tspan></text>
<text style="letter-spacing:1.8px" x="1147.54" y="880.70" font-size="32.79" textLength="146.64" lengthAdjust="spacingAndGlyphs" fill="url(#g_h6)" stroke="url(#g_h6)" stroke-width="1.44" stroke-linejoin="round">19’15–20<tspan style="font-size:0.88em">h</tspan></text>
<text style="letter-spacing:1.83px" x="1112.94" y="1034.40" font-size="33.34" textLength="206.95" lengthAdjust="spacingAndGlyphs" fill="url(#g_h7)" stroke="url(#g_h7)" stroke-width="1.46" stroke-linejoin="round">16’45 <tspan style="font-size:0.88em">a</tspan> 17’45<tspan style="font-size:0.88em">h</tspan></text>
<text style="letter-spacing:1.88px" x="1145.15" y="1189.40" font-size="34.16" textLength="101.55" lengthAdjust="spacingAndGlyphs" fill="url(#g_h8)" stroke="url(#g_h8)" stroke-width="1.50" stroke-linejoin="round">11– 13<tspan style="font-size:0.88em">h</tspan></text>
<text style="letter-spacing:1.8px" x="1123.74" y="1325.70" font-size="32.79" textLength="198.49" lengthAdjust="spacingAndGlyphs" fill="url(#g_h9)" stroke="url(#g_h9)" stroke-width="1.44" stroke-linejoin="round">10’30–12’30<tspan style="font-size:0.88em">h</tspan></text>
<text style="letter-spacing:1.8px" x="1169.52" y="1481.10" font-size="32.79" textLength="98.06" lengthAdjust="spacingAndGlyphs" fill="url(#g_h10)" stroke="url(#g_h10)" stroke-width="1.44" stroke-linejoin="round">16–17<tspan style="font-size:0.88em">h</tspan></text>
<text style="letter-spacing:1.58px" x="1172.19" y="1631.60" font-size="28.69" textLength="87.97" lengthAdjust="spacingAndGlyphs" fill="url(#g_h11)" stroke="url(#g_h11)" stroke-width="1.26" stroke-linejoin="round">17–19<tspan style="font-size:0.88em">h</tspan></text>
<text x="227.34" y="1760.10" font-size="23.98" textLength="886.73" lengthAdjust="spacingAndGlyphs" fill="url(#g_foot)" stroke="url(#g_foot)" stroke-width="0.70" stroke-linejoin="round">Per a més informació: info@matissos.com/ www.matissos.com</text>
<text x="151.18" y="1872.30" font-size="39.83" textLength="208.25" lengthAdjust="spacingAndGlyphs" fill="#0b0b0b">Generalitat</text>
<text x="151.17" y="1911.60" font-size="39.83" textLength="253.57" lengthAdjust="spacingAndGlyphs" fill="#0b0b0b">de Catalunya</text>
<text style="font-weight:400" x="1148.33" y="1865.70" font-size="23.40" textLength="154.53" lengthAdjust="spacingAndGlyphs" fill="#f4f4f4" stroke="#f4f4f4" stroke-width="0.30" stroke-linejoin="round">Ajuntament de</text>
<text style="font-weight:400" x="1147.51" y="1897.90" font-size="30.67" textLength="157.54" lengthAdjust="spacingAndGlyphs" fill="#f4f4f4" stroke="#f4f4f4" stroke-width="0.80" stroke-linejoin="round">Barcelona</text>
</svg></body></html>
